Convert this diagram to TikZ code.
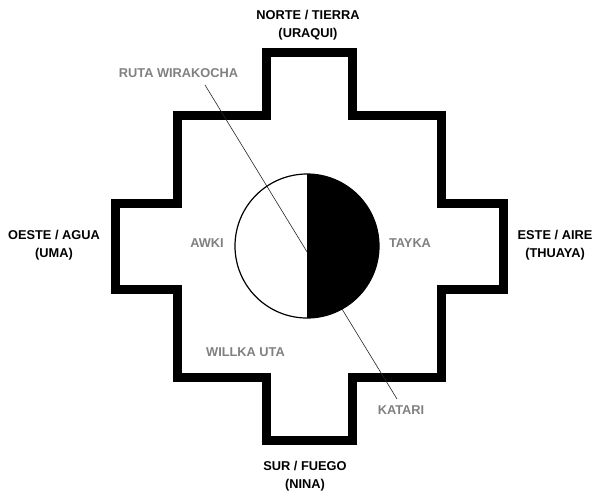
\documentclass[tikz,border=0pt]{standalone}
\usepackage{fontspec}
\setmainfont{Liberation Sans}
\begin{document}
\begin{tikzpicture}[x=1pt,y=-1pt,
  dirlabel/.style={font=\fontsize{12.8}{17.5}\selectfont\bfseries, text=black, align=center, inner sep=0pt},
  graylabel/.style={font=\fontsize{12.8}{15}\selectfont\bfseries, text=labelgray, inner sep=0pt},
  crossline/.style={line width=9pt, line join=miter, draw=black}]
\definecolor{labelgray}{HTML}{808080}
\useasboundingbox (0,0) rectangle (593,491);
% cross
\draw[crossline] (266,52) -- (352,52) -- (352,115) -- (441,115) -- (441,203) -- (503,203) -- (503,289) -- (441,289) -- (441,377) -- (352,377) -- (352,440) -- (266,440) -- (266,377) -- (177,377) -- (177,289) -- (115,289) -- (115,203) -- (177,203) -- (177,115) -- (266,115) -- cycle;
% ruta line
\coordinate (rutastart) at (205,85);
\coordinate (rutaend) at (397,399);
\draw[line width=0.6pt, black!85] (rutastart) -- (rutaend);
% circle
\coordinate (c) at (307,246);
\fill[black] (307,174) arc[start angle=-90, end angle=90, radius=72] -- cycle;
\draw[line width=1.2pt] (c) circle[radius=72];
% labels
\node[dirlabel] (norte) at (308,25) {NORTE / TIERRA\\(URAQUI)};
\node[dirlabel] (oeste) at (54,245) {OESTE / AGUA\\(UMA)};
\node[dirlabel] (este) at (555,245) {ESTE / AIRE\\(THUAYA)};
\node[dirlabel] (sur) at (305,476) {SUR / FUEGO\\(NINA)};
\node[graylabel] (ruta) at (178.5,73) {RUTA WIRAKOCHA};
\node[graylabel] (awki) at (207,243) {AWKI};
\node[graylabel] (tayka) at (410,243) {TAYKA};
\node[graylabel] (willka) at (245.5,352) {WILLKA UTA};
\node[graylabel] (katari) at (401,410) {KATARI};
\end{tikzpicture}
\end{document}
